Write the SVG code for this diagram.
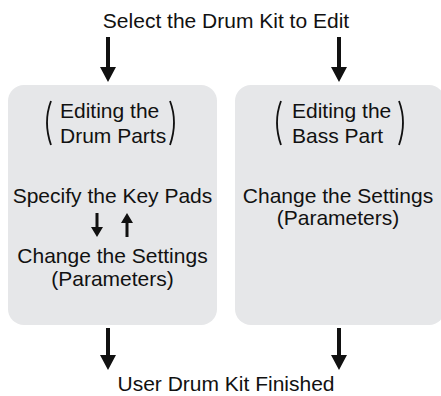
<svg xmlns="http://www.w3.org/2000/svg" width="441" height="396" viewBox="0 0 441 396">
<defs>
<style>
.box{fill:#e6e7e9;}
.t{font-family:"Liberation Sans",Arial,sans-serif;font-size:21px;fill:#111;}
.c{text-anchor:middle;}
.par{fill:none;stroke:#111;stroke-width:1.8;}
.sh{stroke:#111;stroke-width:4;}
.ss{stroke:#111;stroke-width:3;}
</style>
<marker id="ah" markerUnits="userSpaceOnUse" markerWidth="16" markerHeight="16" refX="8" refY="15" orient="auto-start-reverse" viewBox="0 0 16 16">
<path d="M0 0 L16 0 L8 15 Z" fill="#111" transform="rotate(0)"/>
</marker>
</defs>
<rect width="441" height="396" fill="#fff"/>
<text class="t c" x="226" y="28">Select the Drum Kit to Edit</text>
<g id="drumparts">
<rect class="box" x="8" y="85" width="209" height="240" rx="16"/>
<path class="par" d="M51 101 Q43 122 51 145"/>
<path class="par" d="M170 101 Q178 122 170 145"/>
<text class="t" x="60" y="118">Editing the</text>
<text class="t" x="60" y="143">Drum Parts</text>
<text class="t c" x="112.5" y="203">Specify the Key Pads</text>
<text class="t c" x="112.5" y="263">Change the Settings</text>
<text class="t c" x="112.5" y="286">(Parameters)</text>
</g>
<g id="basspart">
<rect class="box" x="235" y="85" width="210" height="240" rx="16"/>
<path class="par" d="M281 101 Q273 122 281 145"/>
<path class="par" d="M399 101 Q407 122 399 145"/>
<text class="t" x="292" y="118">Editing the</text>
<text class="t" x="292" y="143">Bass Part</text>
<text class="t c" x="338" y="203">Change the Settings</text>
<text class="t c" x="338" y="225">(Parameters)</text>
</g>
<text class="t c" x="226" y="391">User Drum Kit Finished</text>
<g id="connectors">
<path d="M106 37 H110 V67 H116 L108 82 L100 67 H106 Z" fill="#111"/>
<path d="M337 37 H341 V67 H347 L339 82 L331 67 H337 Z" fill="#111"/>
<path d="M106 328 H110 V355 H116 L108 370 L100 355 H106 Z" fill="#111"/>
<path d="M337 328 H341 V355 H347 L339 370 L331 355 H337 Z" fill="#111"/>
<path d="M95.5 213 H98.5 V227 H103 L97 237 L91 227 H95.5 Z" fill="#111"/>
<path d="M125.5 237 H128.5 V223 H133 L127 213 L121 223 H125.5 Z" fill="#111"/>
</g>
</svg>
